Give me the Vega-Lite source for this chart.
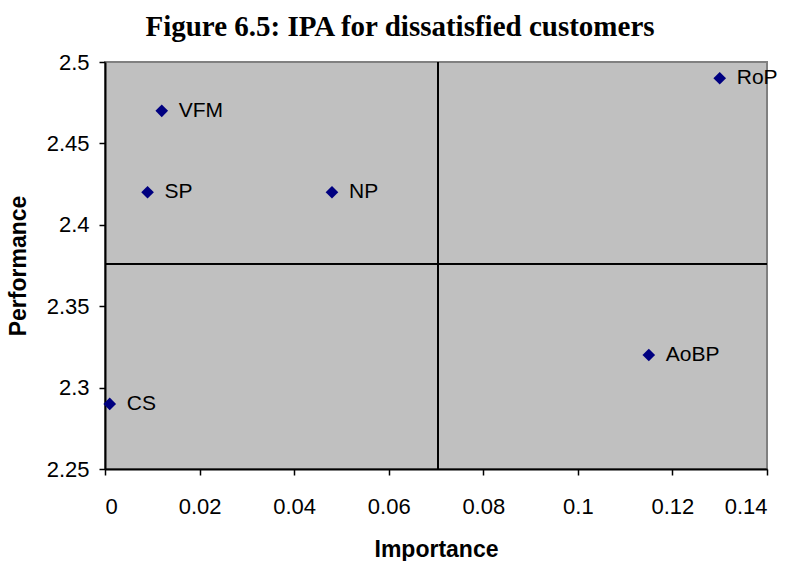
{
  "$schema": "https://vega.github.io/schema/vega-lite/v6.json",
  "width": 662,
  "height": 407,
  "autosize": {"type": "none"},
  "padding": {"left": 105, "top": 62, "right": 26, "bottom": 92},
  "background": "white",
  "title": {
    "text": "Figure 6.5: IPA for dissatisfied customers",
    "font": "Liberation Serif",
    "fontSize": 29,
    "fontWeight": "bold",
    "color": "black",
    "anchor": "middle",
    "dx": -36,
    "offset": 9
  },
  "config": {
    "view": {"fill": "#C0C0C0", "stroke": "#808080", "strokeWidth": 2},
    "axis": {
      "grid": false,
      "domainColor": "black",
      "domainWidth": 2,
      "tickColor": "black",
      "tickWidth": 1.5,
      "labelFont": "Liberation Sans",
      "labelFontSize": 22,
      "labelColor": "black",
      "labelOverlap": false,
      "titleFont": "Liberation Sans",
      "titleFontSize": 23,
      "titleFontWeight": "bold",
      "titleColor": "black"
    }
  },
  "data": {
    "values": [
      {"label": "VFM", "importance": 0.012, "performance": 2.47},
      {"label": "SP", "importance": 0.009, "performance": 2.42},
      {"label": "NP", "importance": 0.048, "performance": 2.42},
      {"label": "CS", "importance": 0.001, "performance": 2.29},
      {"label": "AoBP", "importance": 0.115, "performance": 2.32},
      {"label": "RoP", "importance": 0.13, "performance": 2.49}
    ]
  },
  "layer": [
    {
      "mark": {"type": "rule", "color": "black", "strokeWidth": 1.5},
      "encoding": {"x": {"datum": 0.0704, "type": "quantitative"}}
    },
    {
      "mark": {"type": "rule", "color": "black", "strokeWidth": 1.5},
      "encoding": {"y": {"datum": 2.376, "type": "quantitative"}}
    },
    {
      "mark": {"type": "point", "shape": "diamond", "filled": true, "color": "#000080", "size": 160, "opacity": 1},
      "encoding": {
        "x": {
          "field": "importance",
          "type": "quantitative",
          "scale": {"domain": [0, 0.14], "nice": false, "zero": false},
          "axis": {"title": "Importance", "values": [0, 0.02, 0.04, 0.06, 0.08, 0.1, 0.12, 0.14], "labelPadding": 21, "tickSize": 6, "titlePadding": 21, "format": "~g"}
        },
        "y": {
          "field": "performance",
          "type": "quantitative",
          "scale": {"domain": [2.25, 2.5], "nice": false, "zero": false},
          "axis": {"title": "Performance", "values": [2.25, 2.3, 2.35, 2.4, 2.45, 2.5], "labelPadding": 10, "tickSize": 6, "titlePadding": 16, "format": "~g"}
        }
      }
    },
    {
      "mark": {"type": "text", "align": "left", "baseline": "middle", "dx": 17, "font": "Liberation Sans", "fontSize": 21, "color": "black"},
      "encoding": {
        "x": {"field": "importance", "type": "quantitative"},
        "y": {"field": "performance", "type": "quantitative"},
        "text": {"field": "label"}
      }
    }
  ]
}
